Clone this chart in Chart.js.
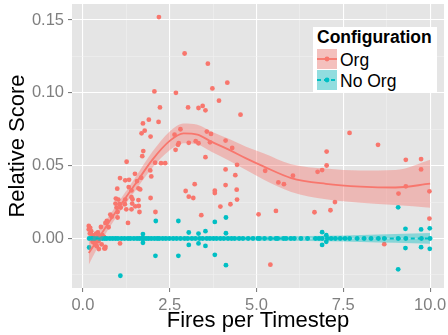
<!DOCTYPE html>
<html><head><meta charset="utf-8">
<script src="https://cdn.jsdelivr.net/npm/chart.js@4.4.0/dist/chart.umd.min.js"></script>
<style>
html,body{margin:0;padding:0;background:#fff;}
#wrap{position:relative;width:448px;height:335px;overflow:hidden;}
#legend{position:absolute;left:313px;top:27px;width:124px;height:66px;background:#fff;font-family:"Liberation Sans",Arial,sans-serif;color:#000;}
#legend .ttl{position:absolute;left:4px;top:0px;line-height:20px;font-size:17.5px;font-weight:bold;white-space:nowrap;}
#legend .key{position:absolute;left:4px;width:20px;height:20px;}
#legend .lab{position:absolute;left:27px;line-height:20px;font-size:17.5px;white-space:nowrap;}
</style></head>
<body>
<div id="wrap">
<canvas id="c" width="448" height="335"></canvas>
<div id="legend">
  <div class="ttl" id="lgTitle"></div>
  <svg class="key" style="top:21.5px" width="20" height="20"><rect width="20" height="20" fill="#F2F2F2"/><rect width="20" height="20" fill="rgba(248,118,109,0.4)"/><line x1="0" y1="10" x2="20" y2="10" stroke="#F8766D" stroke-width="1.8"/><circle cx="10" cy="10" r="2.4" fill="#F8766D"/></svg>
  <div class="lab" id="lab0" style="top:22.5px"></div>
  <svg class="key" style="top:42.5px" width="20" height="20"><rect width="20" height="20" fill="#F2F2F2"/><rect width="20" height="20" fill="rgba(0,191,196,0.4)"/><line x1="0" y1="10" x2="20" y2="10" stroke="#00BFC4" stroke-width="1.8" stroke-dasharray="4 3"/><circle cx="10" cy="10" r="2.4" fill="#00BFC4"/></svg>
  <div class="lab" id="lab1" style="top:43.5px"></div>
</div>
</div>
<script>
// ---- data ----
const seriesNames = ['Org', 'No Org'];
const legendTitle = 'Configuration';
const xTitle = 'Fires per Timestep';
const yTitle = 'Relative Score';

const xMajorTicks = [0, 2.5, 5, 7.5, 10];
const xMinorTicks = [1.25, 3.75, 6.25, 8.75];
const xTickLabels = ['0.0', '2.5', '5.0', '7.5', '10.0'];
const yMajorTicks = [0, 0.05, 0.10, 0.15];
const yMinorTicks = [-0.025, 0.025, 0.075, 0.125];
const yTickLabels = ['0.00', '0.05', '0.10', '0.15'];

const orgX = [2.19,2.93,3.60,2.06,2.68,3.73,2.22,3.03,3.33,3.45,3.53,3.92,4.16,4.54,
  1.90,1.73,2.18,1.69,1.78,1.95,
  2.81,2.64,2.76,2.74,3.05,3.25,3.33,3.57,3.69,3.66,3.53,2.67,1.74,1.71,2.08,2.25,2.37,1.26,
  4.11,4.30,4.44,7.68,8.50,7.02,7.02,6.89,9.30,9.74,9.74,
  4.11,4.39,4.11,4.43,3.22,2.96,3.80,3.80,3.05,3.18,
  4.44,4.25,3.96,3.41,5.06,
  6.76,5.25,6.05,5.63,5.79,
  5.56,6.67,7.13,7.26,5.40,8.68,9.09,9.30,9.98,9.98,
  1.94,1.50,1.97,1.07,1.22,1.33,1.56,1.68,0.99,1.32,1.40,1.60,1.65,
  0.95,1.02,1.22,1.40,1.43,1.60,1.95,0.94,1.06,1.21,1.42,1.51,1.61,0.97,1.09,1.25,1.40,1.63,2.09,1.00,1.00,
  0.79,0.83,0.69,0.65,0.74,1.30,0.52,0.17,0.21,0.17,0.24,0.38,0.43,0.45,0.31,0.38,0.56,0.61,
  0.28,0.37,0.45,0.35,0.40,0.54,0.46,0.62,1.07,0.65,0.20,0.28,0.64];
const orgY = [0.152,0.127,0.120,0.101,0.100,0.103,0.090,0.090,0.0896,0.091,0.088,0.0946,0.107,0.085,
  0.0816,0.079,0.080,0.0722,0.074,0.070,
  0.075,0.0713,0.0654,0.0643,0.0657,0.0668,0.0654,0.0734,0.0718,0.066,0.0558,0.0609,0.060,0.0565,0.052,0.0517,0.0517,0.0527,
  0.0672,0.0622,0.0506,0.0725,0.0643,0.0597,0.0501,0.047,0.054,0.0545,0.0474,
  0.0474,0.0435,0.0367,0.0335,0.0373,0.0326,0.0328,0.0312,0.0287,0.0278,
  0.0267,0.0235,0.0219,0.016,0.0166,
  0.0458,0.0465,0.0431,0.0385,0.0373,
  0.0189,0.018,0.0194,0.025,-0.018,-0.0039,0.0308,0.0358,0.0324,0.0137,
  0.0467,0.0444,0.0426,0.0415,0.0399,0.0403,0.0394,0.0417,0.0342,0.0353,0.033,0.0344,0.0337,
  0.0274,0.0267,0.0267,0.0283,0.0269,0.0264,0.0278,0.024,0.0235,0.0235,0.024,0.0221,0.0223,0.0212,0.0212,0.020,0.020,0.0182,0.0182,0.0182,0.0144,
  0.0164,0.015,0.012,0.0107,0.0077,0.0107,0.0079,0.0086,0.0073,0.0062,0.005,0.0034,0.0041,0.0023,0.0009,0.0,0.0023,0.0011,
  -0.0023,-0.0027,-0.0018,-0.0041,-0.0053,-0.0041,-0.0073,-0.0068,-0.0034,-0.0057,0.0034,0.0023,-0.0068];

const noOrgX = [0.18,0.26,0.33,0.41,0.48,0.56,0.63,0.69,0.78,0.86,0.94,1.01,1.11,1.20,1.30,1.37,1.47,1.56,1.63,1.70,1.73,1.75,1.82,1.89,1.97,2.06,2.14,2.20,2.30,2.39,2.49,
  2.60,2.70,2.81,2.93,3.02,3.14,3.24,3.36,3.45,3.57,3.66,3.76,3.85,3.96,4.06,4.18,4.28,4.37,4.50,4.61,4.76,4.90,5.04,
  5.09,5.23,5.40,5.56,5.61,5.78,5.85,5.99,6.09,6.28,6.47,6.70,6.80,6.89,7.04,7.15,7.27,7.41,7.55,7.68,7.90,8.10,8.30,8.51,8.68,9.08,9.30,9.75,10.0,
  0.18,1.08,2.10,2.09,2.75,2.75,3.05,3.05,3.33,3.33,3.53,3.53,3.80,3.80,4.12,4.12,4.12,6.89,7.01,7.01,6.89,9.08,9.29,9.74,9.99,9.29,9.74,9.99,9.08,1.73,1.73];
const noOrgY = [0,0,0,0,0,0,0,0,0,0,0,0,0,0,0,0,0,0,0,0,0,0,0,0,0,0,0,0,0,0,0,
  0,0,0,0,0,0,0,0,0,0,0,0,0,0,0,0,0,0,0,0,0,0,0,
  0,0,0,0,0,0,0,0,0,0,0,0,0,0,0,0,0,0,0,0,0,0,0,0,0,0,0,0,0,
  -0.0062,-0.0256,0.012,-0.0119,0.012,-0.0119,0.0041,-0.0044,0.0034,-0.0034,0.005,-0.0051,0.0114,-0.0112,0.0144,0.0036,-0.0183,0.0043,0.0023,-0.0023,-0.0044,0.0214,0.0066,0.0062,0.007,-0.0066,-0.006,-0.0071,-0.0212,0.003,-0.003];

// loess fits
const smoothX   = [0.17, 0.5, 1.0, 1.5, 2.0, 2.5, 2.9, 3.3, 3.7, 4.2, 4.7, 5.2, 6.0, 7.0, 8.0, 9.0, 10.0];
const orgFit    = [-0.010, 0.002, 0.020, 0.037, 0.054, 0.067, 0.0722, 0.0713, 0.0665, 0.061, 0.055, 0.0495, 0.0415, 0.0375, 0.0356, 0.035, 0.0376];
const orgLo     = [-0.018, -0.003, 0.016, 0.0325, 0.0485, 0.0605, 0.0654, 0.0645, 0.0595, 0.0535, 0.047, 0.0405, 0.032, 0.027, 0.0246, 0.023, 0.0211];
const orgHi     = [-0.002, 0.007, 0.024, 0.0415, 0.0595, 0.0735, 0.079, 0.0781, 0.0735, 0.0685, 0.063, 0.0585, 0.051, 0.048, 0.0466, 0.047, 0.0541];
const noOrgFit  = [0, 0, 0, 0, 0, 0, 0, 0, 0, 0, 0, 0, 0, 0, 0, 0, 0];
const noOrgLo   = [-0.0016, -0.0014, -0.0014, -0.0014, -0.0014, -0.0014, -0.0014, -0.0014, -0.0014, -0.0014, -0.0014, -0.0015, -0.0016, -0.0019, -0.0024, -0.003, -0.0037];
const noOrgHi   = [0.0016, 0.0014, 0.0014, 0.0014, 0.0014, 0.0014, 0.0014, 0.0014, 0.0014, 0.0014, 0.0014, 0.0015, 0.0016, 0.0019, 0.0024, 0.003, 0.0037];

// ---- build ----
const FONT = '"Liberation Sans", Arial, Helvetica, sans-serif';
const RED = '#F8766D', TEAL = '#00BFC4';
const RED_BAND = 'rgba(248,118,109,0.4)', TEAL_BAND = 'rgba(0,191,196,0.4)';
const pts = (xs, ys) => xs.map((x, i) => ({x: x, y: ys[i]}));
const near = (v, arr) => arr.findIndex(t => Math.abs(t - v) < 1e-9);

document.getElementById('lgTitle').textContent = legendTitle;
document.getElementById('lab0').textContent = seriesNames[0];
document.getElementById('lab1').textContent = seriesNames[1];

const bgPlugin = {
  id: 'panelBg',
  beforeDraw(chart) {
    const {ctx, chartArea: a} = chart;
    ctx.save();
    ctx.fillStyle = '#E5E5E5';
    ctx.fillRect(a.left, a.top, a.right - a.left, a.bottom - a.top);
    ctx.restore();
  }
};

const lineBase = {type: 'line', pointRadius: 0, borderWidth: 0, cubicInterpolationMode: 'monotone', fill: false};

const gridOpts = (majors) => ({
  color: c => (c.tick && near(c.tick.value, majors) >= 0) ? '#FFFFFF' : '#F2F2F2',
  lineWidth: c => (c.tick && near(c.tick.value, majors) >= 0) ? 1.1 : 0.55,
  tickColor: c => (c.tick && near(c.tick.value, majors) >= 0) ? '#7F7F7F' : 'rgba(0,0,0,0)',
  tickLength: 4,
  drawTicks: true
});

new Chart(document.getElementById('c'), {
  type: 'scatter',
  data: {
    datasets: [
      {label: seriesNames[0], data: pts(orgX, orgY), backgroundColor: RED, borderWidth: 0, pointRadius: 2.4, order: 6},
      {label: seriesNames[1], data: pts(noOrgX, noOrgY), backgroundColor: TEAL, borderWidth: 0, pointRadius: 2.4, order: 5},
      Object.assign({}, lineBase, {data: pts(smoothX, orgHi), fill: '+1', backgroundColor: RED_BAND, borderColor: 'rgba(0,0,0,0)', order: 4}),
      Object.assign({}, lineBase, {data: pts(smoothX, orgLo), borderColor: 'rgba(0,0,0,0)', order: 4}),
      Object.assign({}, lineBase, {data: pts(smoothX, orgFit), borderColor: RED, borderWidth: 1.8, order: 3}),
      Object.assign({}, lineBase, {data: pts(smoothX, noOrgHi), fill: '+1', backgroundColor: TEAL_BAND, borderColor: 'rgba(0,0,0,0)', order: 2}),
      Object.assign({}, lineBase, {data: pts(smoothX, noOrgLo), borderColor: 'rgba(0,0,0,0)', order: 2}),
      Object.assign({}, lineBase, {data: pts(smoothX, noOrgFit), borderColor: TEAL, borderWidth: 1.8, borderDash: [4, 3], order: 1})
    ]
  },
  options: {
    responsive: false,
    animation: false,
    devicePixelRatio: 1,
    layout: {padding: {top: 3, left: 0, right: 0, bottom: 0}},
    plugins: {legend: {display: false}, tooltip: {enabled: false}},
    scales: {
      x: {
        type: 'linear', min: -0.313, max: 10.4,
        afterBuildTicks: s => { s.ticks = xMajorTicks.concat(xMinorTicks).sort((a, b) => a - b).map(v => ({value: v})); },
        afterFit: s => { s.height = 47; s.paddingLeft = 0; s.paddingRight = 0; },
        grid: gridOpts(xMajorTicks),
        border: {display: false},
        ticks: {
          autoSkip: false, maxRotation: 0, minRotation: 0, padding: 4, color: '#7F7F7F',
          font: {family: FONT, size: 16.5},
          callback: v => { const i = near(v, xMajorTicks); return i >= 0 ? xTickLabels[i] : ''; }
        },
        title: {display: true, text: xTitle, color: '#000', font: {family: FONT, size: 22}, padding: {top: 0, bottom: 1}}
      },
      y: {
        type: 'linear', min: -0.034, max: 0.161,
        afterBuildTicks: s => { s.ticks = yMajorTicks.concat(yMinorTicks).sort((a, b) => a - b).map(v => ({value: v})); },
        afterFit: s => { s.width = 72; s.paddingTop = 0; s.paddingBottom = 0; },
        grid: gridOpts(yMajorTicks),
        border: {display: false},
        ticks: {
          autoSkip: false, padding: 4, color: '#7F7F7F',
          font: {family: FONT, size: 16.5},
          callback: v => { const i = near(v, yMajorTicks); return i >= 0 ? yTickLabels[i] : ''; }
        },
        title: {display: true, text: yTitle, color: '#000', font: {family: FONT, size: 22}, padding: {top: 5, bottom: 0}}
      }
    }
  },
  plugins: [bgPlugin]
});
</script>
</body></html>
